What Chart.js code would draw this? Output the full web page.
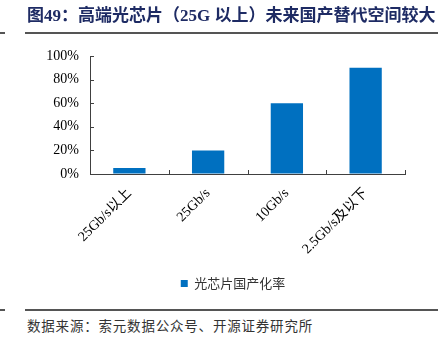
<!DOCTYPE html>
<html>
<head>
<meta charset="utf-8">
<script src="https://cdn.jsdelivr.net/npm/chart.js@4/dist/chart.umd.min.js"></script>
<style>
  html, body { margin: 0; padding: 0; background: #fff; }
  body { width: 438px; height: 346px; position: relative; overflow: hidden; }
  #wrap { position: absolute; left: 0; top: 0; width: 438px; height: 300px; }
  .title { position: absolute; left: 27px; top: 5px; font-family: "Liberation Serif", "Noto Sans CJK SC", serif; font-weight: bold; font-size: 17px; color: #1e2b64; white-space: nowrap; line-height: 22px; }
  .rule { position: absolute; height: 2px; background: #555; }
  .source { position: absolute; left: 27px; top: 316px; font-family: "Noto Sans CJK SC", sans-serif; font-size: 13.5px; color: #333; white-space: nowrap; line-height: 18px; letter-spacing: 0.8px; }
</style>
</head>
<body>
<div id="wrap"><canvas id="c" width="438" height="300"></canvas></div>
<div class="title">图49：高端光芯片（25G 以上）未来国产替代空间较大</div>
<div class="rule" style="left:0;width:5px;top:32px"></div>
<div class="rule" style="left:25px;width:413px;top:32px"></div>
<div class="rule" style="left:0;width:5px;top:309px"></div>
<div class="rule" style="left:25px;width:413px;top:309px"></div>
<div class="source">数据来源：索元数据公众号、开源证券研究所</div>
<script>
const categories = ["25Gb/s以上", "25Gb/s", "10Gb/s", "2.5Gb/s及以下"];
const seriesName = "光芯片国产化率";
const localizationRate = [5, 20, 60, 90];
const yTicks = [0, 20, 40, 60, 80, 100];

const axisColor = '#404040';

const inwardTicks = {
  id: 'inwardTicks',
  afterDraw(chart) {
    const ctx = chart.ctx;
    const x = chart.scales.x, y = chart.scales.y;
    const a = chart.chartArea;
    ctx.save();
    ctx.strokeStyle = axisColor;
    ctx.lineWidth = 1;
    ctx.beginPath();
    yTicks.forEach(v => {
      const py = Math.round(y.getPixelForValue(v)) + 0.5;
      ctx.moveTo(a.left, py);
      ctx.lineTo(a.left + 4, py);
    });
    for (let i = 0; i <= categories.length; i++) {
      const px = Math.round(x.getPixelForValue(i - 0.5)) + 0.5;
      ctx.moveTo(px, a.bottom);
      ctx.lineTo(px, a.bottom - 4);
    }
    ctx.stroke();
    ctx.restore();
  }
};

// centre the legend under the plot region like the reference
const legendShift = {
  id: 'legendShift',
  afterLayout(chart) {
    const lg = chart.legend;
    if (lg) { lg.left = 61; lg.right = 405; }
  }
};

new Chart(document.getElementById('c'), {
  type: 'bar',
  data: {
    labels: categories,
    datasets: [{
      label: seriesName,
      data: localizationRate,
      backgroundColor: '#0070C0',
      borderWidth: 0,
      categoryPercentage: 1,
      barPercentage: 0.41
    }]
  },
  options: {
    responsive: false,
    animation: false,
    devicePixelRatio: 1,
    layout: { padding: { left: 0, right: 33, top: 56, bottom: 0 } },
    plugins: {
      legend: {
        position: 'bottom',
        labels: {
          boxWidth: 7, boxHeight: 7,
          color: '#333',
          font: { family: "'Noto Sans CJK SC', sans-serif", size: 13 },
          padding: 10
        }
      },
      tooltip: { enabled: false }
    },
    scales: {
      x: {
        offset: true,
        grid: { display: true, drawOnChartArea: false, drawTicks: false, color: 'rgba(0,0,0,0)', offset: true },
        border: { display: true, color: axisColor, width: 1 },
        ticks: {
          color: '#000',
          font: { family: "'Liberation Serif', 'Noto Sans CJK SC', serif", size: 14 },
          maxRotation: 45, minRotation: 45, padding: 11
        },
        afterFit(s) { s.height = 93; }
      },
      y: {
        min: 0, max: 100,
        grid: { display: true, drawOnChartArea: false, drawTicks: false, color: 'rgba(0,0,0,0)' },
        border: { display: true, color: axisColor, width: 1 },
        ticks: {
          stepSize: 20,
          color: '#000',
          font: { family: "'Liberation Serif', serif", size: 14 },
          padding: 11,
          callback: v => v + '%'
        },
        afterFit(s) { s.width = 90; }
      }
    }
  },
  plugins: [inwardTicks, legendShift]
});
</script>
</body>
</html>
